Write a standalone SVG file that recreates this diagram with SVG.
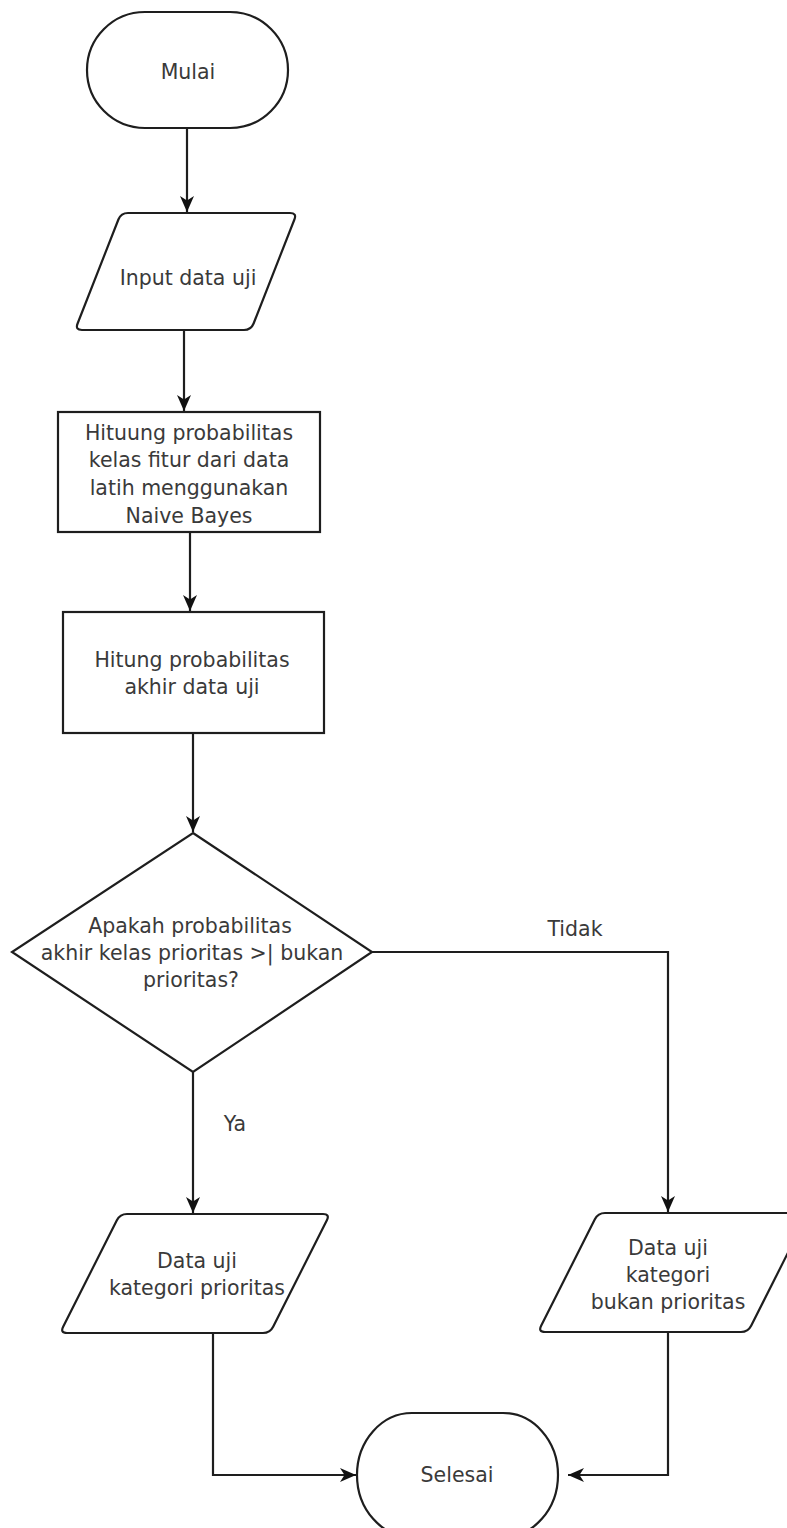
<svg xmlns="http://www.w3.org/2000/svg" width="787" height="1528" viewBox="0 0 787 1528">
<style>
  .shape { fill: #ffffff; stroke: #1e1e1e; stroke-width: 2.2; }
  .conn { fill: none; stroke: #1e1e1e; stroke-width: 2.2; }
  .t { font-family: "DejaVu Sans", "Liberation Sans", sans-serif; font-size: 20.5px; fill: #3a3a3a; text-anchor: middle; }
</style>
<defs>
  <marker id="arr" markerUnits="userSpaceOnUse" markerWidth="16" markerHeight="14" refX="16" refY="7" orient="auto">
    <path d="M0,0 L16,7 L0,14 L4.5,7 Z" fill="#111111"/>
  </marker>
</defs>
<rect width="787" height="1528" fill="#ffffff"/>

<g id="connectors">
  <path class="conn" d="M187,128 L187,212" marker-end="url(#arr)"/>
  <path class="conn" d="M184,330 L184,411" marker-end="url(#arr)"/>
  <path class="conn" d="M190,532 L190,611" marker-end="url(#arr)"/>
  <path class="conn" d="M193,733 L193,832" marker-end="url(#arr)"/>
  <path class="conn" d="M372,952 L668,952 L668,1212" marker-end="url(#arr)"/>
  <path class="conn" d="M193,1072 L193,1213" marker-end="url(#arr)"/>
  <path class="conn" d="M213,1333 L213,1475 L356,1475" marker-end="url(#arr)"/>
  <path class="conn" d="M668,1332 L668,1475 L568,1475" marker-end="url(#arr)"/>
  <text class="t" x="575" y="936">Tidak</text>
  <text class="t" x="235" y="1131">Ya</text>
</g>

<g id="mulai">
  <rect class="shape" x="87" y="12" width="201" height="116" rx="58" ry="58"/>
  <text class="t" x="188" y="79">Mulai</text>
</g>

<g id="input">
  <path class="shape" d="M128,213 L290,213 Q297,213 294.4,219.5 L253.6,323.5 Q251,330 244,330 L82,330 Q75,330 77.6,323.5 L118.4,219.5 Q121,213 128,213 Z"/>
  <text class="t" x="188" y="285">Input data uji</text>
</g>

<g id="hitung-fitur">
  <rect class="shape" x="58" y="412" width="262" height="120"/>
  <text class="t" x="189" y="440">Hituung probabilitas</text>
  <text class="t" x="189" y="467">kelas fitur dari data</text>
  <text class="t" x="189" y="495">latih menggunakan</text>
  <text class="t" x="189" y="523">Naive Bayes</text>
</g>

<g id="hitung-akhir">
  <rect class="shape" x="63" y="612" width="261" height="121"/>
  <text class="t" x="192" y="667">Hitung probabilitas</text>
  <text class="t" x="192" y="694">akhir data uji</text>
</g>

<g id="decision">
  <path class="shape" d="M193,833 L372,952 L193,1072 L12,952 Z"/>
  <text class="t" x="190" y="933">Apakah probabilitas</text>
  <text class="t" x="192" y="960">akhir kelas prioritas &gt;| bukan</text>
  <text class="t" x="191" y="987">prioritas?</text>
</g>

<g id="prioritas">
  <path class="shape" d="M127,1214 L323,1214 Q330,1214 326.85,1220.25 L273.15,1326.75 Q270,1333 263,1333 L67,1333 Q60,1333 63.15,1326.75 L116.85,1220.25 Q120,1214 127,1214 Z"/>
  <text class="t" x="197" y="1268">Data uji</text>
  <text class="t" x="197" y="1295">kategori prioritas</text>
</g>

<g id="bukan-prioritas">
  <path class="shape" d="M605,1213 L801,1213 Q808,1213 804.85,1219.25 L751.15,1325.75 Q748,1332 741,1332 L545,1332 Q538,1332 541.15,1325.75 L594.85,1219.25 Q598,1213 605,1213 Z"/>
  <text class="t" x="668" y="1255">Data uji</text>
  <text class="t" x="668" y="1282">kategori</text>
  <text class="t" x="668" y="1309">bukan prioritas</text>
</g>

<g id="selesai">
  <rect class="shape" x="357" y="1413" width="201" height="124" rx="55" ry="62"/>
  <text class="t" x="457" y="1482">Selesai</text>
</g>
</svg>
